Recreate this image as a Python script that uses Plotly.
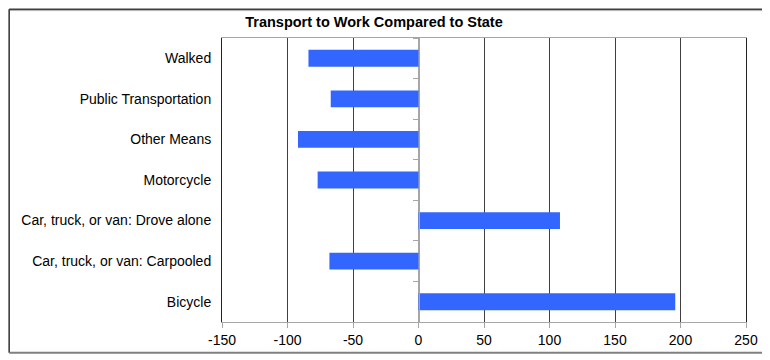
import plotly.graph_objects as go

categories = [
    "Walked",
    "Public Transportation",
    "Other Means",
    "Motorcycle",
    "Car, truck, or van: Drove alone",
    "Car, truck, or van: Carpooled",
    "Bicycle",
]
values = [-84, -67, -92, -77, 108, -68, 196]
x_ticks = [-150, -100, -50, 0, 50, 100, 150, 200, 250]
title_text = "Transport to Work Compared to State"

FONT = "Liberation Sans, Arial, sans-serif"

# page offset of the figure (browser body margin)
OFF = 8
PL, PR, PT, PB = 222, 747, 38, 325  # plot area in page pixels
W, H = 770 - OFF, 360 - OFF


def px(x):
    return (x - PL) / (PR - PL)


def py(y):
    return (PB - y) / (PB - PT)


fig = go.Figure()
fig.add_trace(go.Bar(
    y=categories, x=values, orientation="h",
    marker=dict(color="#3366FF", line=dict(width=0)),
    showlegend=False, hoverinfo="x+y",
))
# invisible trace to define categories on the zero-position axis
fig.add_trace(go.Scatter(
    y=categories, x=[0] * len(categories), yaxis="y2",
    mode="markers", marker=dict(opacity=0), showlegend=False, hoverinfo="skip",
))

xmin, xmax = x_ticks[0], x_ticks[-1]
zero_pos = (0 - xmin) / (xmax - xmin)

fig.update_layout(
    width=W, height=H,
    margin=dict(l=PL - OFF, r=W - (PR - OFF), t=PT - OFF, b=H - (PB - OFF), pad=0),
    paper_bgcolor="white", plot_bgcolor="white",
    bargap=0.585,
    font=dict(family=FONT, size=14, color="black"),
    title=dict(text="<b>" + title_text + "</b>", x=(374 - OFF) / W, xref="container", xanchor="center",
               y=1 - (22 - OFF) / H, yref="container", yanchor="middle",
               font=dict(family=FONT, size=14.5, color="black")),
    xaxis=dict(range=[xmin, xmax], tickvals=x_ticks, ticktext=[str(v) for v in x_ticks],
               showgrid=True, gridcolor="#404040", gridwidth=1,
               zeroline=True, zerolinecolor="#a6a6a6", zerolinewidth=1,
               showline=True, linecolor="#a6a6a6", linewidth=1, mirror=True,
               ticks="outside", ticklen=5, tickcolor="#a6a6a6",
               tickfont=dict(family=FONT, size=14, color="black"),
               fixedrange=True),
    yaxis=dict(categoryorder="array", categoryarray=categories, autorange="reversed",
               showgrid=False, zeroline=False,
               showline=True, linecolor="#222222", linewidth=1, mirror=True,
               ticks="", ticklabelstandoff=7,
               tickfont=dict(family=FONT, size=14, color="black"),
               fixedrange=True),
    yaxis2=dict(overlaying="y", matches="y", anchor="free", position=zero_pos,
                categoryorder="array", categoryarray=categories, autorange="reversed",
                showticklabels=False, showgrid=False, zeroline=False,
                showline=True, linecolor="#a6a6a6", linewidth=1,
                ticks="outside", tickson="boundaries", ticklen=6, tickcolor="#a6a6a6",
                fixedrange=True),
)

# outer frame
left_x = px(OFF + 0.75)
top_y = py(OFF + 1)
bot_y = py(356)
fig.add_shape(type="line", xref="paper", yref="paper",
              x0=left_x, x1=1.2, y0=top_y, y1=top_y,
              line=dict(color="#404040", width=1.5))
fig.add_shape(type="line", xref="paper", yref="paper",
              x0=left_x, x1=1.2, y0=py(OFF + 2.3), y1=py(OFF + 2.3),
              line=dict(color="#b0b0b0", width=1))
fig.add_shape(type="line", xref="paper", yref="paper",
              x0=left_x, x1=left_x, y0=top_y, y1=bot_y,
              line=dict(color="#303030", width=1.5))
fig.add_shape(type="line", xref="paper", yref="paper",
              x0=left_x, x1=1.2, y0=bot_y, y1=bot_y,
              line=dict(color="#808080", width=2))

fig.write_html("out.html")
